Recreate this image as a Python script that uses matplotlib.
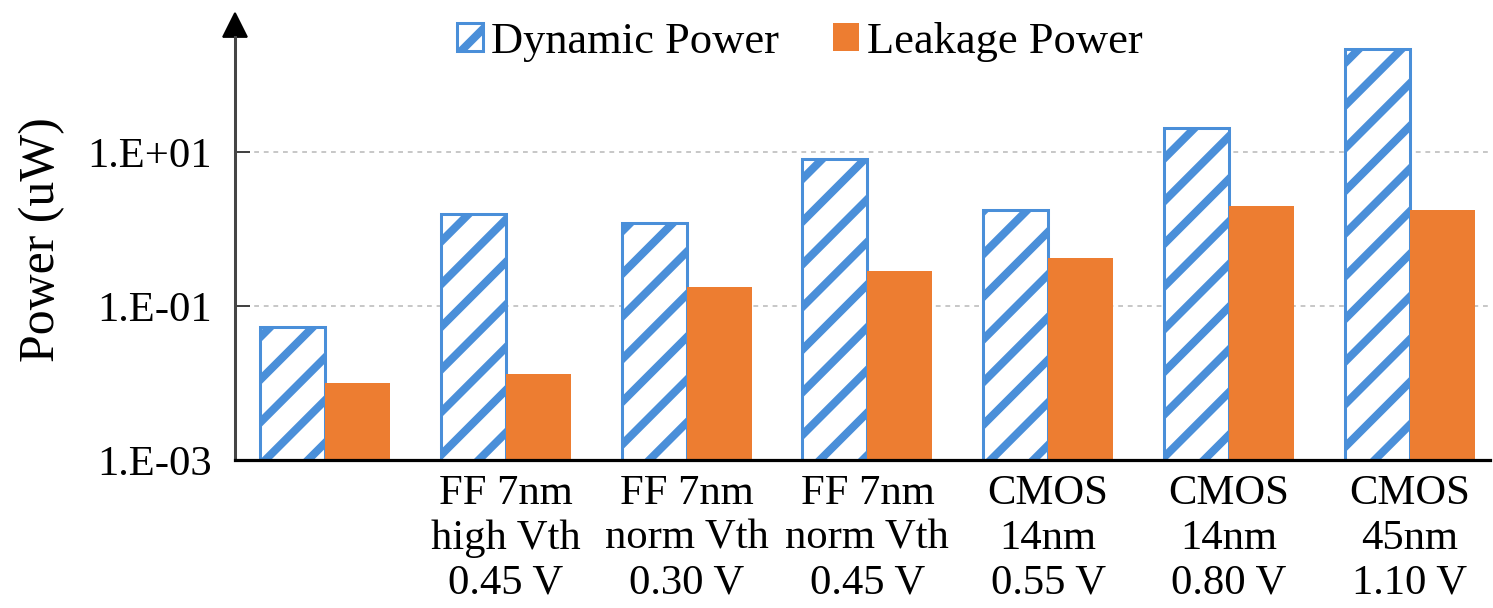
from matplotlib import pyplot as plt
from matplotlib import transforms
import numpy as np

# power per technology point (uW)
categories = ['', 'FF 7nm\nhigh Vth\n0.45 V', 'FF 7nm\nnorm Vth\n0.30 V',
              'FF 7nm\nnorm Vth\n0.45 V', 'CMOS\n14nm\n0.55 V',
              'CMOS\n14nm\n0.80 V', 'CMOS\n45nm\n1.10 V']
dynamic = [0.054, 1.58, 1.21, 8.1, 1.79, 20.4, 220]
leakage = [0.0101, 0.0129, 0.176, 0.283, 0.416, 2.01, 1.79]
ytick_vals = [1e-3, 1e-1, 1e1]
ytick_labels = ['1.E-03', '1.E-01', '1.E+01']

BLUE = '#4A8FD9'
ORANGE = '#ED7D31'
DPI = 128

plt.rcParams['font.family'] = ['Liberation Serif', 'DejaVu Serif']
plt.rcParams['hatch.linewidth'] = 4.5

fig = plt.figure(figsize=(1493 / DPI, 608 / DPI), dpi=DPI)
ax = fig.add_axes([235 / 1493, 148 / 608, 1255 / 1493, 423 / 608])

x = np.arange(len(categories))
w = 0.36
ax.bar(x - w / 2, dynamic, w, facecolor='white', edgecolor=BLUE,
       hatch='/', linewidth=1.7, label='Dynamic Power', zorder=2)
ax.bar(x + w / 2, leakage, w, color=ORANGE, label='Leakage Power', zorder=2)

ax.set_yscale('log')
ax.set_ylim(1e-3, 312)
ax.set_xlim(-0.498, 6.444)
ax.set_yticks(ytick_vals)
ax.set_yticklabels(ytick_labels)
ax.yaxis.set_minor_locator(plt.NullLocator())
ax.set_xticks(x)
ax.set_xticklabels(categories, linespacing=1.22)

ax.tick_params(axis='y', direction='in', length=8.4, width=1.1,
               color='#404040', labelsize=24, pad=13)
ax.tick_params(axis='x', length=0, labelsize=24, pad=8)

ax.grid(axis='y', linestyle=(0, (3, 3)), color='#BBBBBB', linewidth=0.9)
ax.set_axisbelow(True)

for s in ['top', 'right']:
    ax.spines[s].set_visible(False)
ax.spines['left'].set_color('#454545')
ax.spines['left'].set_linewidth(1.7)
ax.spines['bottom'].set_color('black')
ax.spines['bottom'].set_linewidth(1.8)

# arrow head on top of the y axis
tr = transforms.offset_copy(ax.transAxes, fig=fig, y=12, units='dots')
ax.plot([0], [1], marker='^', markersize=14, color='black', transform=tr,
        clip_on=False)

fig.text(42 / 1493, 1 - 240 / 608, 'Power (uW)', rotation=90,
         ha='center', va='center', fontsize=28)

fig.legend(loc='center', bbox_to_anchor=(800 / 1493, 1 - 42 / 608),
           ncol=2, frameon=False, fontsize=25, handlelength=0.6,
           handleheight=0.6, handletextpad=0.18, columnspacing=1.2,
           borderpad=0, borderaxespad=0)

fig.savefig('out.png', dpi=DPI)
